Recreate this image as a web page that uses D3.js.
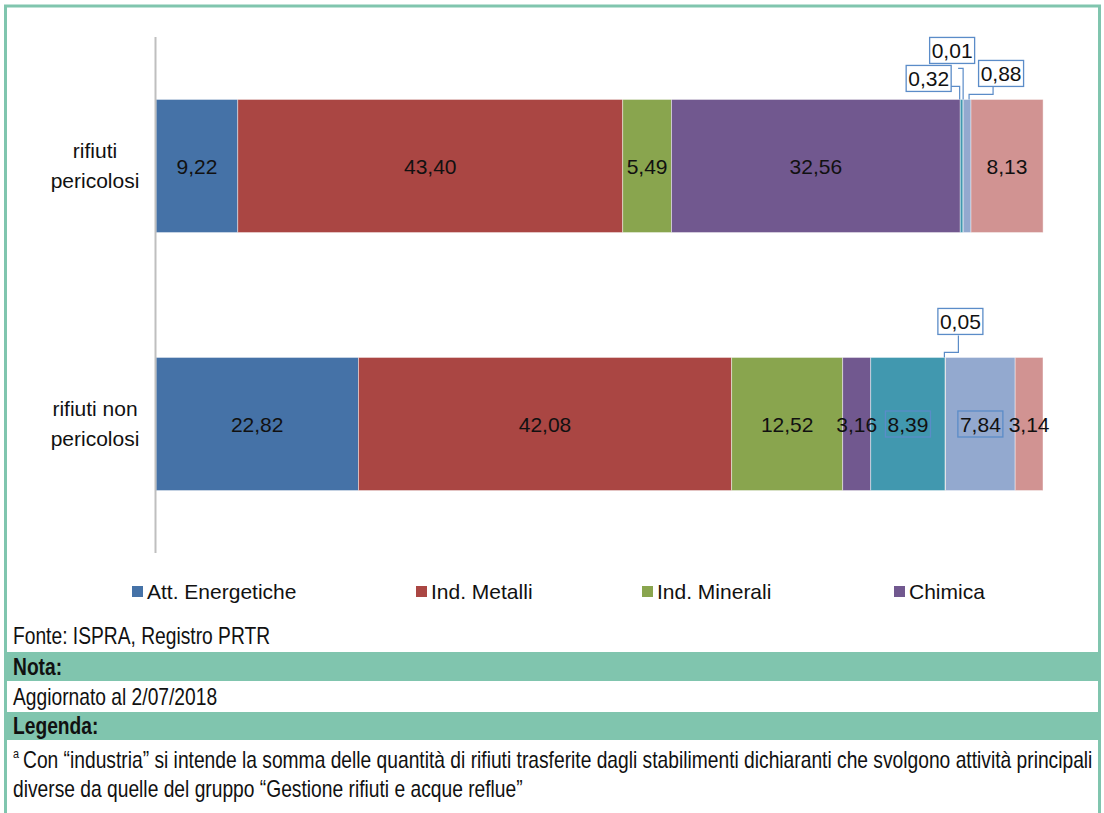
<!DOCTYPE html>
<html>
<head>
<meta charset="utf-8">
<script src="https://cdn.jsdelivr.net/npm/d3@7"></script>
<style>
  html, body { margin: 0; padding: 0; background: #ffffff; }
  svg { display: block; }
</style>
</head>
<body>
<svg id="chart" width="1104" height="813"></svg>
<script>
// ---------- DATA ----------
const categories = [["rifiuti", "pericolosi"], ["rifiuti non", "pericolosi"]];
const categoryKeys = ["rifiuti pericolosi", "rifiuti non pericolosi"];
const seriesNames = ["Att. Energetiche", "Ind. Metalli", "Ind. Minerali", "Chimica", "Serie 5", "Serie 6", "Serie 7", "Serie 8"];
const legendNames = ["Att. Energetiche", "Ind. Metalli", "Ind. Minerali", "Chimica"];
const seriesColors = ["#4572a7", "#aa4643", "#89a54e", "#71588f", "#4198af", "#db843d", "#93a9cf", "#d19392"];
const valuesPericolosi = [9.22, 43.40, 5.49, 32.56, 0.32, 0.01, 0.88, 8.13];
const valuesNonPericolosi = [22.82, 42.08, 12.52, 3.16, 8.39, 0.05, 7.84, 3.14];
const xDomain = [0, 100];

// label treatment: "in" = centered in bar, "boxed" = centered with box, "callout" = box above bar with leader
const labelModePericolosi = ["in", "in", "in", "in", "callout", "callout", "callout", "in"];
const labelModeNonPericolosi = ["in", "in", "in", "in", "boxed", "callout", "boxed", "in"];

// callout layout (relative to segment centre x and bar top y)
const calloutLayout = {
  "0-4": { dx: -33, dy: -21, leader: [[-16, -13], [-2, -13], [-2, 0]] },
  "0-5": { dx: -11, dy: -49, leader: [[-5, -31], [0, -31], [0, 0]] },
  "0-6": { dx: 34, dy: -26, leader: [[26, -13], [26, -5], [2, -5], [2, 0]] },
  "1-5": { dx: 15, dy: -36, leader: [[13, -22], [13, -5], [-1, -5], [-1, 0]] }
};

const rows = [valuesPericolosi, valuesNonPericolosi];
const rowModes = [labelModePericolosi, labelModeNonPericolosi];

// ---------- LAYOUT ----------
const svg = d3.select("#chart");
const W = 1104, H = 813;
const plot = { left: 156, right: 1043, top: 37, bottom: 553 };
const fontMain = "'Liberation Sans', Arial, sans-serif";
const frameColor = "#80c5ae";
const textColor = "#111111";
const boxColor = "#5b8cc8";

const x = d3.scaleLinear().domain(xDomain).range([plot.left, plot.right]);
const y = d3.scaleBand().domain(categoryKeys).range([plot.top, plot.bottom])
  .paddingInner(0.484).paddingOuter(0.242);

svg.append("rect").attr("x", 0).attr("y", 0).attr("width", W).attr("height", H).attr("fill", "#fff");

// ---------- BARS ----------
const stacks = rows.map((vals, r) => {
  let acc = 0;
  return vals.map((v, i) => {
    const s = { row: r, i, v, x0: acc, x1: acc + v };
    acc += v;
    return s;
  });
});

const gBars = svg.append("g");
stacks.forEach((segs, r) => {
  gBars.selectAll(null).data(segs).enter().append("rect")
    .attr("x", d => x(d.x0))
    .attr("y", y(categoryKeys[r]))
    .attr("width", d => Math.max(0, x(d.x1) - x(d.x0)))
    .attr("height", y.bandwidth())
    .attr("fill", d => seriesColors[d.i])
    .attr("stroke", "#ffffff")
    .attr("stroke-opacity", 0.55)
    .attr("stroke-width", 0.8);
});

// category axis
const yAxis = d3.axisLeft(y).tickSize(0).tickFormat("");
const gAxis = svg.append("g").attr("transform", `translate(${plot.left - 0.5},0)`).call(yAxis);
gAxis.select(".domain").attr("stroke", "#bfbfbf").attr("stroke-width", 2)
  .attr("d", `M0,${plot.top}V${plot.bottom}`);

// category labels
categoryKeys.forEach((k, r) => {
  const cy = y(k) + y.bandwidth() / 2;
  const t = svg.append("text")
    .attr("x", 95).attr("y", cy - 8)
    .attr("text-anchor", "middle")
    .attr("font-family", fontMain).attr("font-size", 21).attr("fill", textColor);
  categories[r].forEach((line, li) => {
    t.append("tspan").attr("x", 95).attr("dy", li === 0 ? 0 : 30).text(line);
  });
});

// ---------- DATA LABELS ----------
const fmt = v => v.toFixed(2).replace(".", ",");
const gLabels = svg.append("g");
stacks.forEach((segs, r) => {
  const top = y(categoryKeys[r]);
  const cy = top + y.bandwidth() / 2;
  segs.forEach(d => {
    const mode = rowModes[r][d.i];
    const cx = (x(d.x0) + x(d.x1)) / 2;
    if (mode === "in" || mode === "boxed") {
      if (mode === "boxed") {
        gLabels.append("rect")
          .attr("x", cx - 22.5).attr("y", cy - 13)
          .attr("width", 45).attr("height", 26)
          .attr("fill", "none").attr("stroke", boxColor).attr("stroke-width", 1.3);
      }
      gLabels.append("text")
        .attr("x", cx).attr("y", cy + 7.5)
        .attr("text-anchor", "middle")
        .attr("font-family", fontMain).attr("font-size", 21).attr("fill", textColor)
        .text(fmt(d.v));
    } else if (mode === "callout") {
      const c = calloutLayout[`${r}-${d.i}`];
      const bx = cx + c.dx, by = top + c.dy;
      const line = d3.line();
      gLabels.append("path")
        .attr("d", line(c.leader.map(p => [cx + p[0], top + p[1]])))
        .attr("fill", "none").attr("stroke", boxColor).attr("stroke-width", 1.2);
      gLabels.append("rect")
        .attr("x", bx - 22.5).attr("y", by - 13)
        .attr("width", 45).attr("height", 26)
        .attr("fill", "#fff").attr("stroke", boxColor).attr("stroke-width", 1.3);
      gLabels.append("text")
        .attr("x", bx).attr("y", by + 7.5)
        .attr("text-anchor", "middle")
        .attr("font-family", fontMain).attr("font-size", 21).attr("fill", textColor)
        .text(fmt(d.v));
    }
  });
});

// ---------- LEGEND ----------
const legendX = [132, 416, 642, 894];
const gLegend = svg.append("g");
legendNames.forEach((name, i) => {
  const idx = seriesNames.indexOf(name);
  gLegend.append("rect")
    .attr("x", legendX[i]).attr("y", 586)
    .attr("width", 11).attr("height", 11)
    .attr("fill", seriesColors[idx]);
  gLegend.append("text")
    .attr("x", legendX[i] + 15).attr("y", 598.5)
    .attr("font-family", fontMain).attr("font-size", 21).attr("fill", textColor)
    .text(name);
});

// ---------- FOOTER ----------
const footer = svg.append("g");
footer.append("rect").attr("x", 7).attr("y", 652).attr("width", 1091).attr("height", 29).attr("fill", frameColor);
footer.append("rect").attr("x", 7).attr("y", 712).attr("width", 1091).attr("height", 28).attr("fill", frameColor);

const footerLines = [
  { t: "Fonte: ISPRA, Registro PRTR", x: 13, y: 644 },
  { t: "Nota:", x: 13, y: 675, bold: true },
  { t: "Aggiornato al 2/07/2018", x: 13, y: 705 },
  { t: "Legenda:", x: 13, y: 734, bold: true },
  { t: "Con \u201Cindustria\u201D si intende la somma delle quantit\u00E0 di rifiuti trasferite dagli stabilimenti dichiaranti che svolgono attivit\u00E0 principali", x: 23, y: 768, ref: true },
  { t: "diverse da quelle del gruppo \u201CGestione rifiuti e acque reflue\u201D", x: 13, y: 797 }
];
// condensed look: horizontally compress Liberation Sans so the long line spans as in the reference
const ftNodes = footerLines.map(l => {
  const node = footer.append("text")
    .attr("font-family", fontMain).attr("font-size", 23)
    .attr("font-weight", l.bold ? "bold" : "normal")
    .attr("fill", textColor).text(l.t);
  return { l, node };
});
const refNode = ftNodes.find(n => n.l.ref);
const targetRight = 1093;
const sx = (targetRight - refNode.l.x) / refNode.node.node().getComputedTextLength();
ftNodes.forEach(({ l, node }) => {
  node.attr("transform", `translate(${l.x},${l.y}) scale(${sx},1)`);
});
footer.append("text").attr("transform", `translate(13,758) scale(${sx},1)`)
  .attr("font-family", fontMain).attr("font-size", 13).attr("fill", textColor).text("a");

// ---------- FRAME ----------
svg.append("path")
  .attr("d", `M5.5,${H}V6H1099.5V${H}`)
  .attr("fill", "none").attr("stroke", frameColor).attr("stroke-width", 3);
</script>
</body>
</html>
